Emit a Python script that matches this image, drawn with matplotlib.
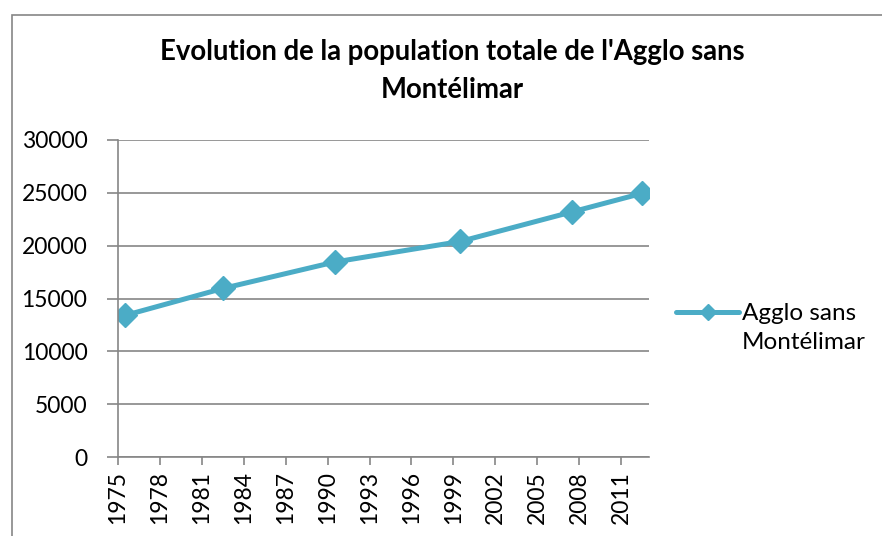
import matplotlib.pyplot as plt
import matplotlib.patches as mpatches
import matplotlib.lines as mlines

# census years and population of the Agglo without Montelimar
years = [1975, 1982, 1990, 1999, 2007, 2012]
population = [13400, 15950, 18450, 20400, 23200, 24950]
tick_years = list(range(1975, 2012, 3))
y_ticks = [0, 5000, 10000, 15000, 20000, 25000, 30000]

line_color = '#4BACC6'
grid_color = '#868686'
plt.rcParams['font.family'] = ['Lato', 'DejaVu Sans']

W, H = 882, 536
fig = plt.figure(figsize=(W / 100, H / 100), dpi=100)

# chart area border (cropped at right and bottom)
fig.patches.append(mpatches.Rectangle((12 / W, -0.1), 1.2, 1 - 15 / H + 0.1,
                                      transform=fig.transFigure, fill=False,
                                      edgecolor=grid_color, linewidth=1.2))

ax = fig.add_axes([118 / W, 1 - 457 / H, (649 - 118) / W, (457 - 140) / H])

# points sit in the middle of their year on the date axis
ax.plot([y + 0.5 for y in years], population, color=line_color, linewidth=3.6,
        marker='D', markersize=12, solid_capstyle='round')

ax.set_xlim(1975, 2013)
ax.set_ylim(0, 30000)
ax.set_xticks(tick_years)
ax.set_xticklabels([str(t) for t in tick_years], rotation=90, fontsize=16.5)
ax.set_yticks(y_ticks)
ax.set_yticklabels([str(t) for t in y_ticks], fontsize=16.5)

ax.grid(axis='y', color=grid_color, linewidth=1.2)
ax.set_axisbelow(True)
for side in ['top', 'right']:
    ax.spines[side].set_visible(False)
for side in ['left', 'bottom']:
    ax.spines[side].set_color(grid_color)
    ax.spines[side].set_linewidth(1.2)
ax.tick_params(axis='both', direction='out', color=grid_color, width=1.2)
ax.tick_params(axis='y', length=8, pad=14)
ax.tick_params(axis='x', length=6, pad=4)

fig.text(452 / W, 1 - 71 / H, "Evolution de la population totale de l'Agglo sans\nMontélimar",
         ha='center', va='center', fontsize=19.8, fontweight='bold', linespacing=1.55)

# legend: handle beside the first line only, second line has an empty handle
handle = mlines.Line2D([], [], color=line_color, linewidth=3.6, marker='D',
                       markersize=8, solid_capstyle='round')
blank = mlines.Line2D([], [], color='none')
ax.legend([handle, blank], ['Agglo sans', 'Montélimar'], loc='center left',
          bbox_to_anchor=(676 / W, 1 - 328 / H), bbox_transform=fig.transFigure,
          frameon=False, fontsize=17.5, handlelength=2.6, handletextpad=0.1,
          labelspacing=0.3, borderpad=0, borderaxespad=0)

fig.savefig('out.png', dpi=100)
